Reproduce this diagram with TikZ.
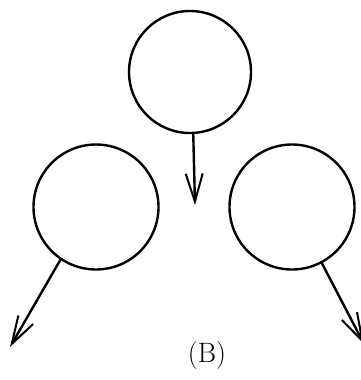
\documentclass[tikz,border=0pt]{standalone}
\usepackage{tikz}
\usetikzlibrary{arrows.meta}

\begin{document}
\begin{tikzpicture}[
  x=1pt, y=-1pt,
  ring/.style ={draw, line width=2.4pt, circle, inner sep=0pt},
  arr/.style  ={-{Straight Barb[length=28pt,width=17pt,line width=2pt]}, line width=2.4pt},
  lbl/.style  ={font=\fontsize{28}{30}\selectfont}
]
\useasboundingbox (0,0) rectangle (361,380);

%% ---- Circles -------------------------------------------------------
\node[ring, minimum size=122pt] (top)   at (190, 72) {};
\node[ring, minimum size=125pt] (left)  at (96, 207) {};
\node[ring, minimum size=125pt] (right) at (292,207) {};

%% ---- Free ends of the arrows ---------------------------------------
\coordinate (topend)   at (195,205);
\coordinate (leftend)  at (10, 347);
\coordinate (rightend) at (364,344);

%% ---- Arrows --------------------------------------------------------
\draw[arr] (top.-87)      -- (topend);
\draw[arr] (left.-124)    -- (leftend);
\draw[arr] (right.-62)    -- (rightend);

%% ---- Label ---------------------------------------------------------
\node[lbl] (tag) at (207,356) {(B)};

\end{tikzpicture}
\end{document}
